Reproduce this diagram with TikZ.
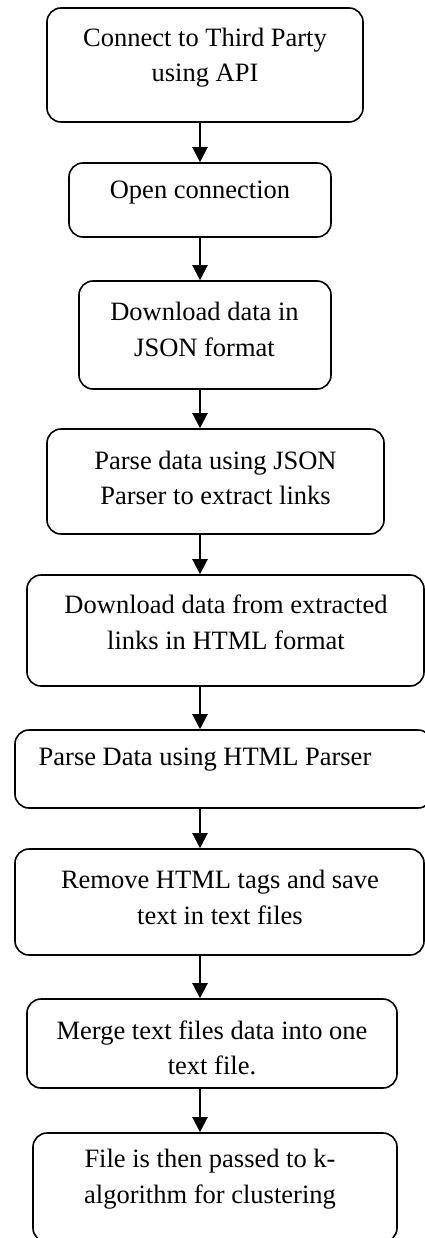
\documentclass[tikz,border=0pt]{standalone}
\usepackage{fontspec}
\setmainfont{Liberation Serif}
\usetikzlibrary{arrows.meta}

\tikzset{
  stepbox/.style={draw, line width=1.6pt, rounded corners=14pt},
  steptext/.style={inner sep=0pt, align=center, font=\fontsize{26.5}{35.5}\selectfont},
  flow/.style={line width=2.2pt, -{Triangle[width=15pt,length=15pt]}}
}

\begin{document}
\begin{tikzpicture}[x=1pt, y=-1pt]
  \useasboundingbox[fill=white] (0,0) rectangle (425,1238);
  \coordinate (ax) at (200,0);
  % boxes
  \node[stepbox, minimum width=316pt, minimum height=114pt] (b1) at (205,65) {};
  \node[stepbox, minimum width=262pt, minimum height=74pt] (b2) at (200,200) {};
  \node[stepbox, minimum width=252pt, minimum height=108pt] (b3) at (205,335) {};
  \node[stepbox, minimum width=337pt, minimum height=105pt] (b4) at (215.5,481.5) {};
  \node[stepbox, minimum width=397pt, minimum height=111pt] (b5) at (225.5,630.5) {};
  \node[stepbox, minimum width=417pt, minimum height=78pt] (b6) at (223.5,769) {};
  \node[stepbox, minimum width=409pt, minimum height=106pt] (b7) at (219.5,902) {};
  \node[stepbox, minimum width=370pt, minimum height=89pt] (b8) at (212,1043.5) {};
  \node[stepbox, minimum width=364pt, minimum height=109pt] (b9) at (215,1187.5) {};
  % texts
  \node[steptext] (t1) at (205,57.5) {Connect to Third Party\\using API};
  \node[steptext] (t2) at (200,193) {Open connection};
  \node[steptext] (t3) at (204.5,329.5) {Download data in\\JSON format};
  \node[steptext] (t4) at (215.5,478) {Parse data using JSON\\Parser to extract links};
  \node[steptext] (t5) at (226,622.5) {Download data from extracted\\links in HTML format};
  \node[steptext] (t6) at (205,760) {Parse Data using HTML Parser};
  \node[steptext] (t7) at (220,897.5) {Remove HTML tags and save\\text in text files};
  \node[steptext] (t8) at (212,1048) {Merge text files data into one\\text file.};
  \node[steptext] (t9) at (210,1179) {File is then passed to k-\\algorithm for clustering};
  % arrows
  \foreach \a/\b in {b1/b2,b2/b3,b3/b4,b4/b5,b5/b6,b6/b7,b7/b8,b8/b9}
    \draw[flow] (\a.south -| ax) -- (\b.north -| ax);
\end{tikzpicture}
\end{document}
